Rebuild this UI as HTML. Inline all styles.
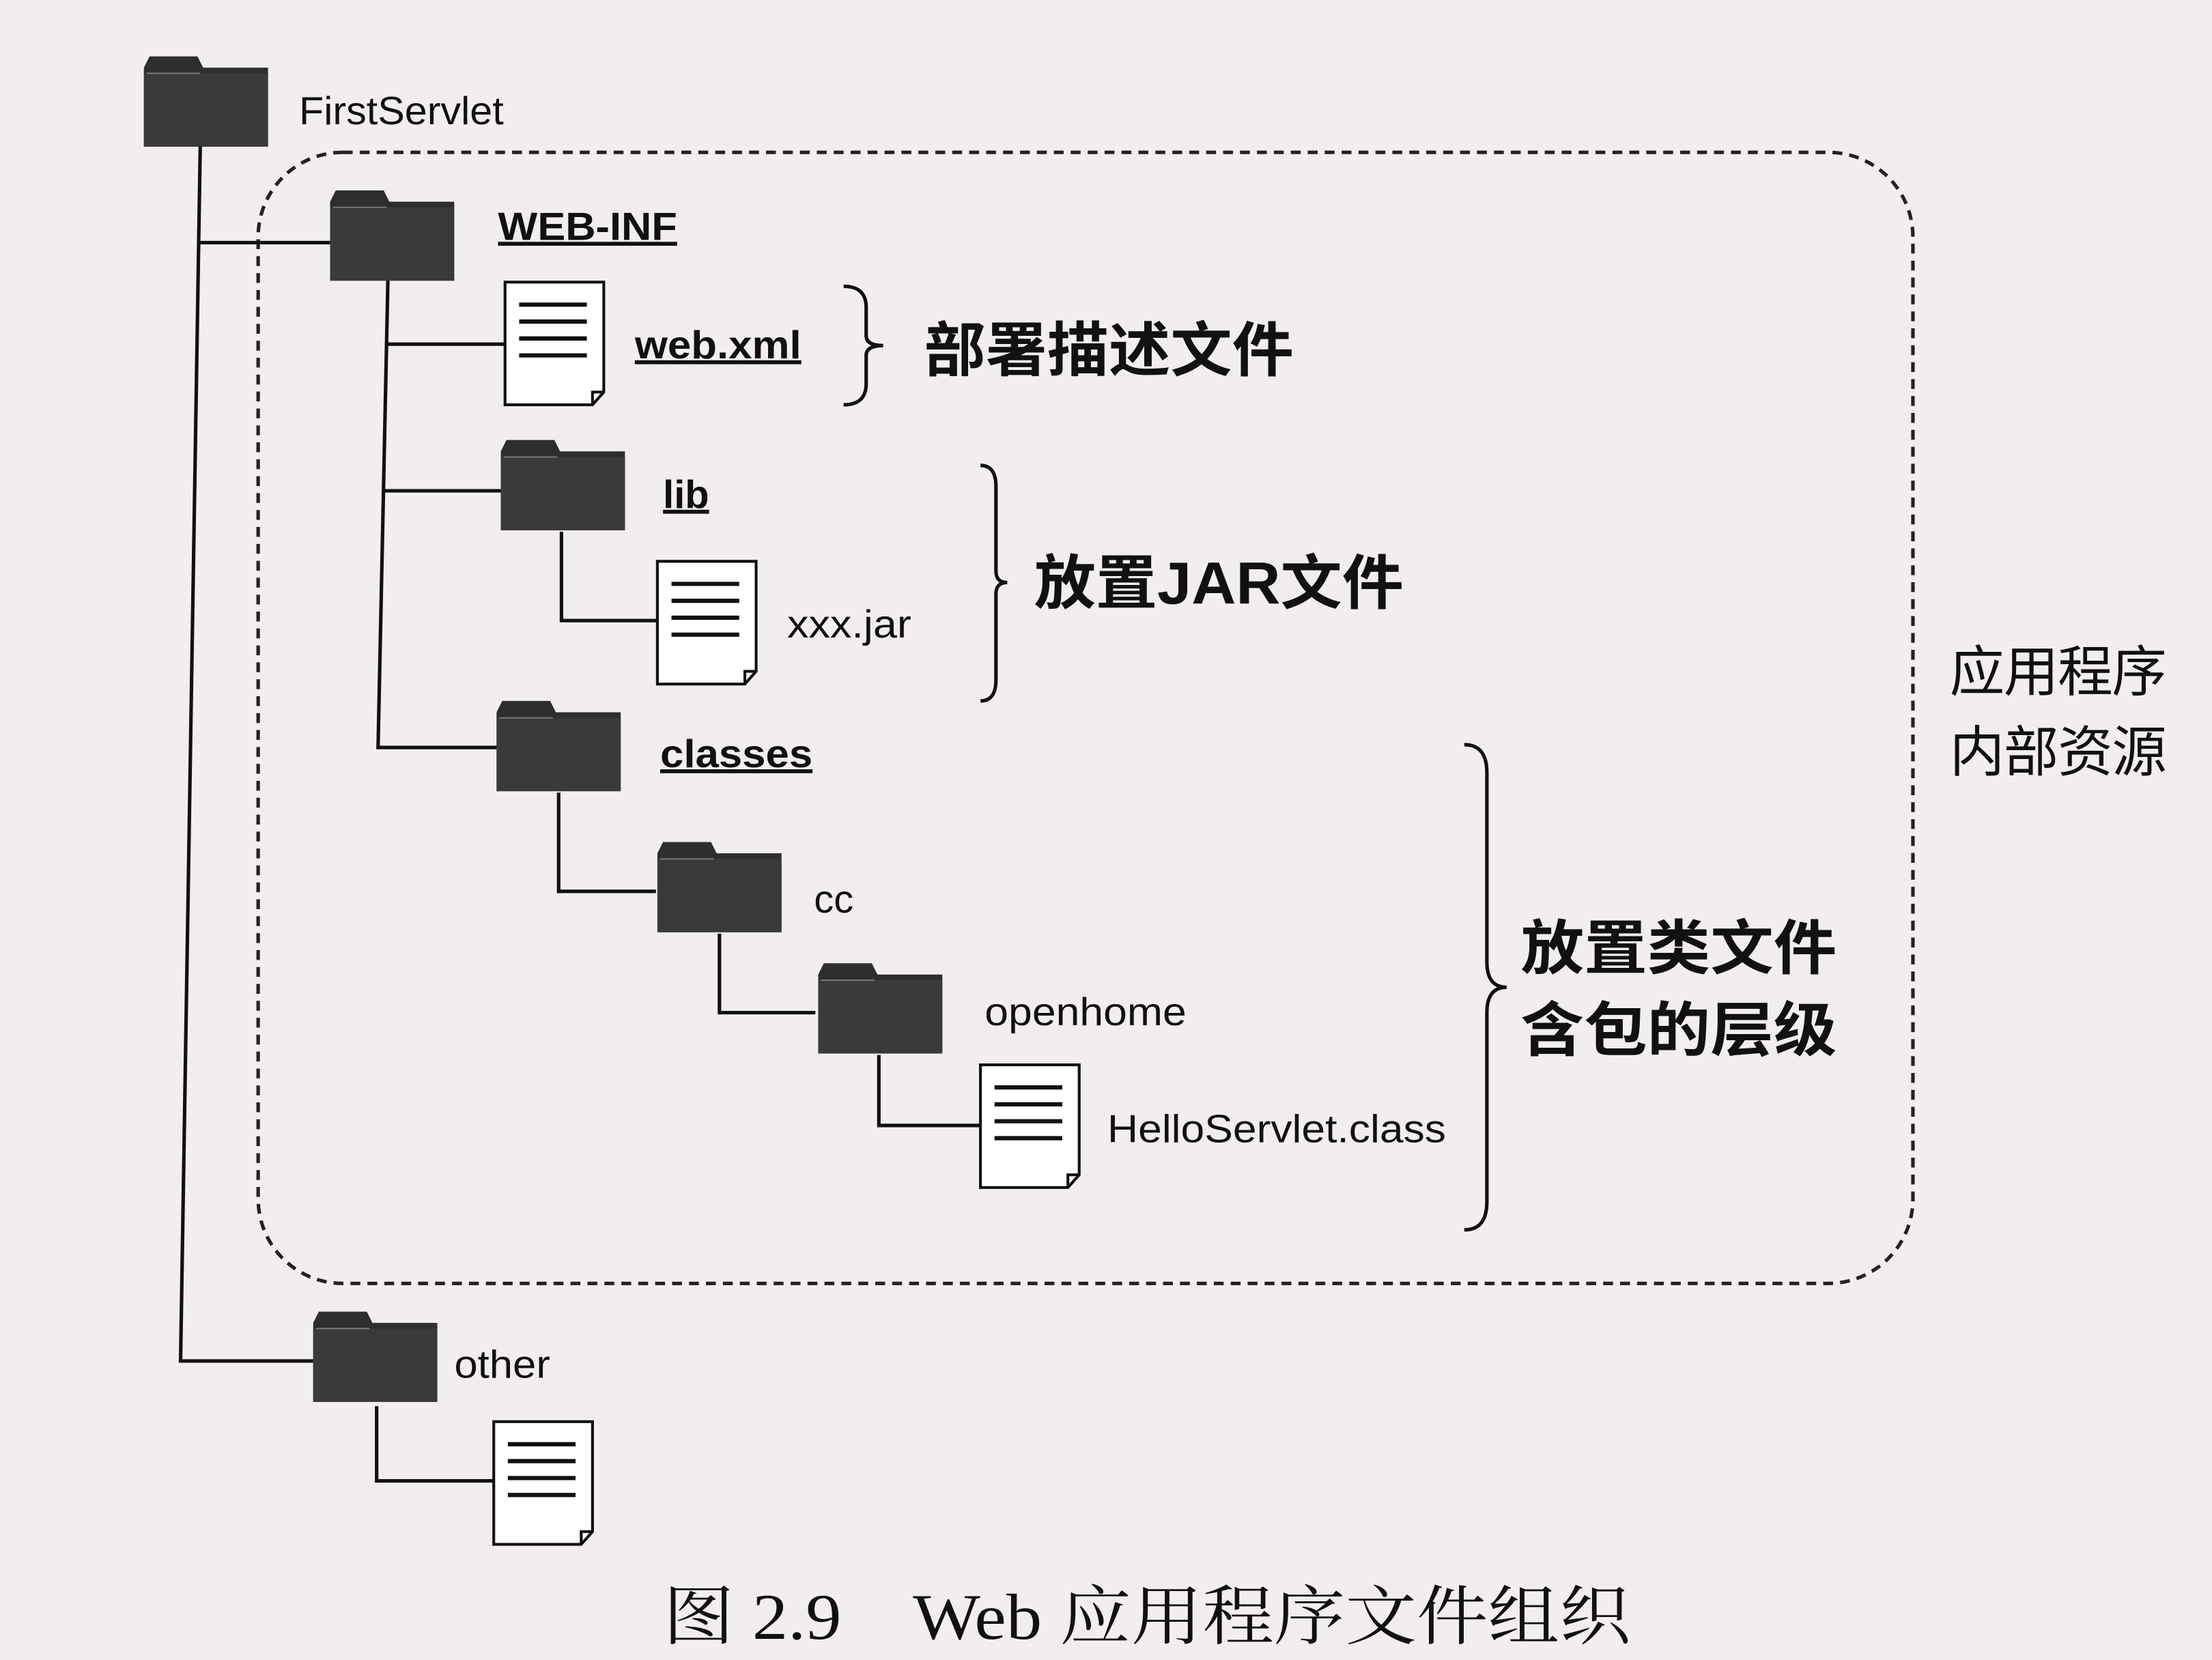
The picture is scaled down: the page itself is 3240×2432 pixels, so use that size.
<!DOCTYPE html>
<html><head><meta charset="utf-8">
<style>
html,body{margin:0;padding:0;background:#f3eeee;}
svg{display:block;}
.l{font-family:"Liberation Sans","Noto Sans CJK SC",sans-serif;font-size:28px;fill:#111;}
.b{font-weight:bold;text-decoration:underline;}
.c{font-family:"Liberation Sans","Noto Sans CJK SC",sans-serif;font-size:42px;fill:#111;font-weight:bold;}
.s{font-family:"Liberation Serif","Noto Serif CJK SC",serif;font-size:46px;fill:#111;}
</style></head>
<body>
<svg width="3240" height="2432" viewBox="0 0 1568 1177" preserveAspectRatio="none" xmlns="http://www.w3.org/2000/svg">
<defs>
<g id="fold">
<path d="M0,8 L4,0 L38,0 L42,8 L88,8 L88,64 L0,64 Z" fill="#2e2e2e"/>
<rect x="0" y="12" width="88" height="52" fill="#3a3a3a"/>
<line x1="2" y1="12" x2="40" y2="12" stroke="#777" stroke-width="1"/>
</g>
<g id="doc">
<path d="M0,0 L70,0 L70,78 L62,87 L0,87 Z" fill="#fff" stroke="#111" stroke-width="2"/>
<path d="M62,87 L62,78 L70,78" fill="none" stroke="#111" stroke-width="2"/>
<line x1="10" y1="16" x2="58" y2="16" stroke="#111" stroke-width="3"/>
<line x1="10" y1="28" x2="58" y2="28" stroke="#111" stroke-width="3"/>
<line x1="10" y1="40" x2="58" y2="40" stroke="#111" stroke-width="3"/>
<line x1="10" y1="52" x2="58" y2="52" stroke="#111" stroke-width="3"/>
</g>
</defs>
<rect width="1568" height="1177" fill="#f3eeee"/>
<rect x="183" y="108" width="1173" height="802" rx="60" ry="60" fill="none" stroke="#222" stroke-width="2.5" stroke-dasharray="7,5"/>
<g stroke="#111" stroke-width="2.5" fill="none">
<polyline points="142,100 128,965 222,965"/>
<line x1="142" y1="172" x2="235" y2="172"/>
<polyline points="275,197 268,530 352,530"/>
<line x1="273" y1="244" x2="358" y2="244"/>
<line x1="272" y1="348" x2="355" y2="348"/>
<polyline points="398,377 398,440 466,440"/>
<polyline points="396,562 396,632 465,632"/>
<polyline points="510,662 510,718 578,718"/>
<polyline points="623,748 623,798 695,798"/>
<polyline points="267,997 267,1050 350,1050"/>
<path d="M598,203 Q614,203 614,218 L614,238 Q614,245 626,245 Q614,245 614,252 L614,272 Q614,287 598,287"/>
<path d="M695,330 Q706,330 706,345 L706,405 Q706,413 714,413 Q706,413 706,421 L706,482 Q706,497 695,497"/>
<path d="M1038,528 Q1054,528 1054,548 L1054,682 Q1054,700 1068,700 Q1054,700 1054,718 L1054,852 Q1054,872 1038,872"/>
</g>
<use href="#fold" x="102" y="40"/>
<use href="#fold" x="234" y="135"/>
<use href="#fold" x="355" y="312"/>
<use href="#fold" x="352" y="497"/>
<use href="#fold" x="466" y="597"/>
<use href="#fold" x="580" y="683"/>
<use href="#fold" x="222" y="930"/>
<use href="#doc" x="358" y="200"/>
<use href="#doc" x="466" y="398"/>
<use href="#doc" x="695" y="755"/>
<use href="#doc" x="350" y="1008"/>
<text class="l" x="212" y="88" textLength="145" lengthAdjust="spacingAndGlyphs">FirstServlet</text>
<text class="l b" x="353" y="170" textLength="127" lengthAdjust="spacingAndGlyphs">WEB-INF</text>
<text class="l b" x="450" y="254" textLength="118" lengthAdjust="spacingAndGlyphs">web.xml</text>
<text class="l b" x="470" y="360">lib</text>
<text class="l" x="558" y="452" textLength="88" lengthAdjust="spacingAndGlyphs">xxx.jar</text>
<text class="l b" x="468" y="544" textLength="108" lengthAdjust="spacingAndGlyphs">classes</text>
<text class="l" x="577" y="647">cc</text>
<text class="l" x="698" y="727" textLength="143" lengthAdjust="spacingAndGlyphs">openhome</text>
<text class="l" x="785" y="810" textLength="240" lengthAdjust="spacingAndGlyphs">HelloServlet.class</text>
<text class="l" x="322" y="977" textLength="68" lengthAdjust="spacingAndGlyphs">other</text>
<text class="c" x="655" y="263" textLength="262" lengthAdjust="spacingAndGlyphs">部署描述文件</text>
<text class="c" x="733" y="428" textLength="262" lengthAdjust="spacingAndGlyphs">放置JAR文件</text>
<text class="c" x="1078" y="687" textLength="224" lengthAdjust="spacingAndGlyphs">放置类文件</text>
<text class="c" x="1078" y="745" textLength="224" lengthAdjust="spacingAndGlyphs">含包的层级</text>
<text class="c" x="1382" y="490" style="font-size:39px;font-weight:normal" textLength="154">应用程序</text>
<text class="c" x="1382" y="547" style="font-size:39px;font-weight:normal" textLength="154">内部资源</text>
<text class="s" x="470" y="1162" textLength="686" lengthAdjust="spacingAndGlyphs">图 2.9　Web 应用程序文件组织</text>
</svg>
</body></html>
